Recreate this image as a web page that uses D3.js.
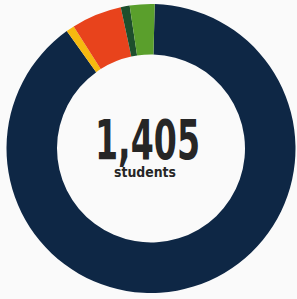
<!DOCTYPE html>
<html>
<head>
<meta charset="utf-8">
<script src="https://cdn.jsdelivr.net/npm/d3@7"></script>
<style>
  body { margin: 0; background: #fafafa; }
  svg { display: block; }
</style>
</head>
<body>
<svg class="donut-frame"></svg>
<script>
const groups = ["Group A", "Group B", "Group C", "Group D", "Group E"];
const counts = [1260, 13, 79, 14, 39];
const colors = ["#0e2745", "#f6b90f", "#e8431c", "#1d4f2c", "#5a9f2c"];
const totalLabel = "1,405";
const unitLabel = "students";

const width = 297, height = 299;
const cx = 151, cy = 148.5
  , outerR = 144.5
  , innerR = 94;

const svg = d3.select(".donut-frame")
  .attr("width", width)
  .attr("height", height);

const graph = svg.append("g")
  .attr("transform", "translate(" + cx + "," + cy + ")");

const offset = 0.026;
const pie = d3.pie()
  .sort(null)
  .startAngle(offset)
  .endAngle(2 * Math.PI + offset)
  .value(d => d.count);

const arc = d3.arc()
  .innerRadius(innerR)
  .outerRadius(outerR);

const data = groups.map((g, i) => ({group: g, count: counts[i], color: colors[i]}));

graph.selectAll("path")
  .data(pie(data))
  .enter().append("path")
  .attr("d", arc)
  .attr("fill", d => d.data.color);

// big number, squeezed to the condensed look of the original
graph.append("text")
  .attr("x", -3.5)
  .attr("y", 10.5)
  .attr("text-anchor", "middle")
  .attr("font-family", "'DejaVu Sans', sans-serif")
  .attr("font-weight", "bold")
  .attr("font-size", "55px")
  .attr("textLength", 105)
  .attr("lengthAdjust", "spacingAndGlyphs")
  .attr("fill", "#262626")
  .text(totalLabel);

graph.append("text")
  .attr("x", -6)
  .attr("y", 28.5)
  .attr("text-anchor", "middle")
  .attr("font-family", "'DejaVu Sans', sans-serif")
  .attr("font-weight", "bold")
  .attr("font-size", "14px")
  .attr("textLength", 62)
  .attr("lengthAdjust", "spacingAndGlyphs")
  .attr("fill", "#262626")
  .text(unitLabel);
</script>
</body>
</html>
